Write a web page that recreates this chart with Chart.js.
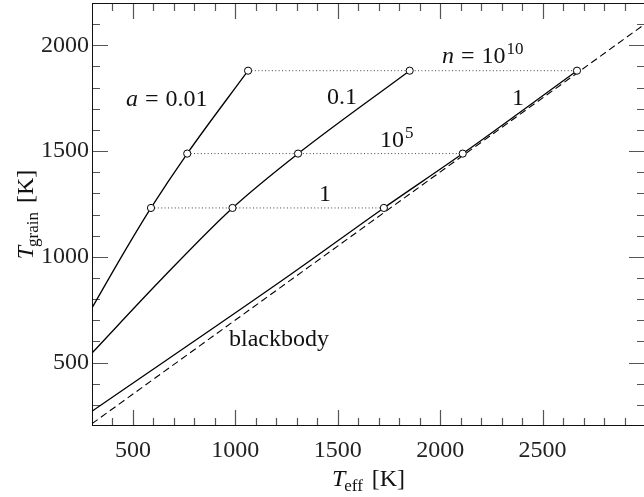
<!DOCTYPE html>
<html>
<head>
<meta charset="utf-8">
<script src="https://cdn.jsdelivr.net/npm/chart.js@4/dist/chart.umd.min.js"></script>
<style>
  html, body { margin: 0; padding: 0; background: #fff; overflow: hidden; }
  canvas { display: block; }
</style>
</head>
<body>
<canvas id="chart" width="646" height="497"></canvas>
<script>
// Dust grain temperature as a function of stellar effective temperature,
// for three grain sizes a and three gas densities n.

// Marked points: each row shares one grain temperature (one density n)
const densityRows = ['1', '10^5', '10^10'];
const rowTgrain = [1231, 1488, 1880];
const markTeffA001 = [588, 765, 1062];
const markTeffA01 = [986, 1306, 1851];
const markTeffA1 = [1725, 2110, 2668];

// Curves for each grain size
const curveTeffA001 = [300, 445, 588, 765, 1062];
const curveTgrainA001 = [758, 1002, 1231, 1488, 1880];
const curveTeffA01 = [300, 640, 986, 1306, 1851];
const curveTgrainA01 = [545, 895, 1231, 1488, 1880];
const curveTeffA1 = [300, 1266, 1725, 2110, 2668];
const curveTgrainA1 = [270, 914, 1231, 1488, 1880];

// Blackbody reference line
const blackbodyTeff = [300, 3000];
const blackbodyTgrain = [211, 2101];

// Axis tick labels
const xTickValues = [500, 1000, 1500, 2000, 2500];
const yTickValues = [500, 1000, 1500, 2000];

const SERIF = '"Liberation Serif", "DejaVu Serif", serif';
const FS = 24;

const pts = (xs, ys) => xs.map((v, i) => ({ x: v, y: ys[i] }));
const rowPts = r => [markTeffA001[r], markTeffA01[r], markTeffA1[r]].map(v => ({ x: v, y: rowTgrain[r] }));

const curveStyle = {
  borderColor: '#000', borderWidth: 1.3, pointRadius: 0, showLine: true,
  cubicInterpolationMode: 'monotone', fill: false, order: 2
};
const rowStyle = {
  borderColor: '#444', borderWidth: 1, borderDash: [1, 2.4], showLine: true,
  pointRadius: 3.6, pointBorderWidth: 1, pointBorderColor: '#000',
  pointBackgroundColor: '#fff', pointStyle: 'circle', fill: false, order: 0
};

const datasets = [
  Object.assign({ label: 'blackbody', data: pts(blackbodyTeff, blackbodyTgrain),
    borderColor: '#000', borderWidth: 1.1, borderDash: [7, 4], pointRadius: 0,
    showLine: true, fill: false, order: 3 }),
  Object.assign({ label: 'a = 0.01', data: pts(curveTeffA001, curveTgrainA001) }, curveStyle),
  Object.assign({ label: 'a = 0.1', data: pts(curveTeffA01, curveTgrainA01) }, curveStyle),
  Object.assign({ label: 'a = 1', data: pts(curveTeffA1, curveTgrainA1) }, curveStyle),
  ...densityRows.map((n, r) => Object.assign({ label: 'n = ' + n, data: rowPts(r) }, rowStyle))
];

// Draw a sequence of text runs (font, offsets) starting at x, baseline y
function runWidth(ctx, runs) {
  let w = 0;
  for (const r of runs) { ctx.font = r.font; w += (r.dx || 0) + ctx.measureText(r.t).width; }
  return w;
}
function drawRuns(ctx, x, y, runs) {
  for (const r of runs) {
    ctx.font = r.font;
    x += r.dx || 0;
    ctx.fillText(r.t, x, y + (r.dy || 0));
    x += ctx.measureText(r.t).width;
  }
  return x;
}
const rm = s => `${s}px ${SERIF}`;
const it = s => `italic ${s}px ${SERIF}`;

// Curve and density annotations, anchored in data coordinates (left, baseline)
const annotations = [
  { x: 466, y: 1713, runs: [{ t: 'a', font: it(FS) }, { t: '=', font: rm(FS), dx: 7 }, { t: '0.01', font: rm(FS), dx: 7 }] },
  { x: 1447, y: 1722, runs: [{ t: '0.1', font: rm(FS) }] },
  { x: 2351, y: 1718, runs: [{ t: '1', font: rm(FS) }] },
  { x: 2009, y: 1914, runs: [{ t: 'n', font: it(FS) }, { t: '=', font: rm(FS), dx: 7 }, { t: '10', font: rm(FS), dx: 7 }, { t: '10', font: rm(17), dy: -9, dx: 1 }] },
  { x: 1706, y: 1521, runs: [{ t: '10', font: rm(FS) }, { t: '5', font: rm(17), dy: -9, dx: 1 }] },
  { x: 1408, y: 1265, runs: [{ t: '1', font: rm(FS) }] },
  { x: 969, y: 578, runs: [{ t: 'blackbody', font: rm(FS) }] }
];

const decorations = {
  id: 'decorations',
  beforeDatasetsDraw(chart) {
    const { ctx, chartArea: a, scales: { x, y } } = chart;
    ctx.save();
    // inward ticks on all four sides
    ctx.strokeStyle = '#555';
    ctx.lineWidth = 1.2;
    ctx.beginPath();
    for (let v = x.min + 100; v < x.max; v += 100) {
      const p = Math.round(x.getPixelForValue(v)) + 0.5;
      const len = v % 500 === 0 ? 16 : 8;
      ctx.moveTo(p, a.bottom); ctx.lineTo(p, a.bottom - len);
      ctx.moveTo(p, a.top); ctx.lineTo(p, a.top + len);
    }
    for (let v = y.min + 100; v < y.max; v += 100) {
      const p = Math.round(y.getPixelForValue(v)) + 0.5;
      const len = v % 500 === 0 ? 16 : 8;
      ctx.moveTo(a.left, p); ctx.lineTo(a.left + len, p);
      ctx.moveTo(a.right, p); ctx.lineTo(a.right - len, p);
    }
    ctx.stroke();
    // frame
    ctx.strokeStyle = '#111';
    ctx.lineWidth = 1;
    ctx.strokeRect(a.left + 0.5, a.top + 0.5, a.right - a.left - 1, a.bottom - a.top - 1);
    ctx.restore();
  },
  afterDraw(chart) {
    const { ctx, chartArea: a, scales: { x, y } } = chart;
    ctx.save();
    ctx.fillStyle = '#111';
    ctx.textBaseline = 'alphabetic';
    ctx.textAlign = 'left';
    for (const an of annotations) {
      drawRuns(ctx, x.getPixelForValue(an.x), y.getPixelForValue(an.y), an.runs);
    }
    // x axis title
    const xt = [{ t: 'T', font: it(FS) }, { t: 'eff', font: rm(17), dy: 5, dx: -1 }, { t: '[K]', font: rm(FS), dx: 9 }];
    const cx = (a.left + a.right) / 2;
    drawRuns(ctx, cx - runWidth(ctx, xt) / 2, 486, xt);
    // y axis title
    const yt = [{ t: 'T', font: it(FS) }, { t: 'grain', font: rm(17), dy: 5, dx: -1 }, { t: '[K]', font: rm(FS), dx: 9 }];
    const cy = (a.top + a.bottom) / 2;
    ctx.translate(33, cy);
    ctx.rotate(-Math.PI / 2);
    drawRuns(ctx, -runWidth(ctx, yt) / 2, 0, yt);
    ctx.restore();
  }
};

new Chart(document.getElementById('chart'), {
  type: 'scatter',
  data: { datasets },
  plugins: [decorations],
  options: {
    responsive: false,
    animation: false,
    devicePixelRatio: 1,
    layout: { autoPadding: false, padding: { top: 3, right: 1, left: 0, bottom: 0 } },
    plugins: { legend: { display: false }, tooltip: { enabled: false } },
    scales: {
      x: {
        type: 'linear', min: 300, max: 3000,
        afterFit: s => { s.height = 71; s.paddingLeft = 0; s.paddingRight = 0; },
        afterBuildTicks: s => { s.ticks = xTickValues.map(v => ({ value: v })); },
        grid: { display: false, drawTicks: false },
        border: { display: false },
        ticks: { padding: 10, color: '#222', autoSkip: false, maxRotation: 0,
                 font: { family: SERIF, size: FS }, callback: v => String(v) }
      },
      y: {
        type: 'linear', min: 200, max: 2200,
        afterFit: s => { s.width = 92; s.paddingTop = 0; s.paddingBottom = 0; },
        afterBuildTicks: s => { s.ticks = yTickValues.map(v => ({ value: v })); },
        grid: { display: false, drawTicks: false },
        border: { display: false },
        ticks: { padding: 3, color: '#222', autoSkip: false,
                 font: { family: SERIF, size: FS }, callback: v => String(v) }
      }
    }
  }
});
</script>
</body>
</html>
